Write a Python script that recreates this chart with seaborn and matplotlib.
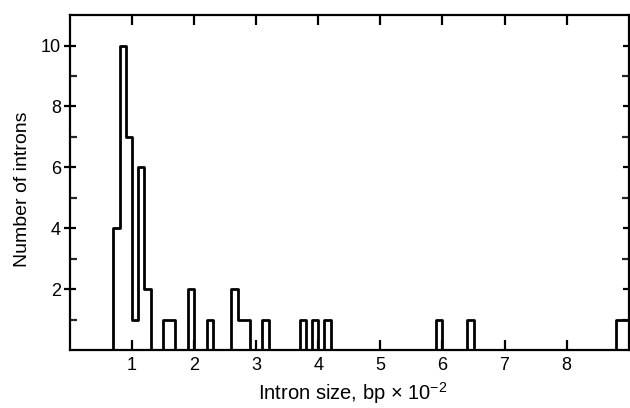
import matplotlib
matplotlib.use("Agg")
import matplotlib.pyplot as plt
import seaborn as sns
import pandas as pd

# Histogram of intron sizes (bin centres in units of 100 bp) and counts per 10-bp bin
size_centres = [0.75, 0.85, 0.95, 1.05, 1.15, 1.25, 1.55, 1.65, 1.95, 2.25,
                2.65, 2.75, 2.85, 3.15, 3.75, 3.95, 4.15, 5.95, 6.45, 8.85, 8.95]
intron_counts = [4, 10, 7, 1, 6, 2, 1, 1, 2, 1,
                 2, 1, 1, 1, 1, 1, 1, 1, 1, 1, 1]
x_ticks = [1, 2, 3, 4, 5, 6, 7, 8]
y_major = [2, 4, 6, 8, 10]
y_minor = [1, 3, 5, 7, 9]

df = pd.DataFrame({"size": size_centres, "count": intron_counts})

sns.set_theme(style="ticks")
plt.rcParams["font.family"] = ["Liberation Sans", "DejaVu Sans"]
plt.rcParams["mathtext.fontset"] = "custom"
plt.rcParams["mathtext.rm"] = "Liberation Sans"
plt.rcParams["mathtext.it"] = "Liberation Sans:italic"

fig = plt.figure(figsize=(6.3, 4.08), dpi=100)
ax = fig.add_axes([0.111, 0.142, 0.887, 0.821])

sns.histplot(data=df, x="size", weights="count", bins=90, binrange=(0, 9),
             element="step", fill=False, color="black", linewidth=2.0,
             solid_joinstyle="round", ax=ax)

ax.set_xlim(0, 9)
ax.set_ylim(0, 11)
ax.set_xticks(x_ticks)
ax.set_xticklabels([str(t) for t in x_ticks])
ax.set_yticks(y_major)
ax.set_yticklabels([str(t) for t in y_major])
ax.set_yticks(y_minor, minor=True)

for s in ax.spines.values():
    s.set_visible(True)
    s.set_linewidth(1.6)
    s.set_color("black")

ax.tick_params(axis="x", which="major", direction="in", length=7, width=1.6,
               top=True, bottom=True, labelsize=13, pad=5, colors="black")
ax.tick_params(axis="y", which="major", direction="inout", length=9, width=1.6,
               left=True, right=True, labelsize=13, pad=2, colors="black")
ax.tick_params(axis="y", which="minor", direction="in", length=5, width=1.6,
               left=True, right=True)

ax.set_xlabel("Intron size, bp \u00d7 10$^{-2}$", fontsize=14.5, color="black")
ax.set_ylabel("Number of introns", fontsize=14, color="black")
ax.xaxis.set_label_coords(0.506, -0.09)
ax.yaxis.set_label_coords(-0.070, 0.48)
ax.grid(False)

fig.savefig("out.png", dpi=100)
